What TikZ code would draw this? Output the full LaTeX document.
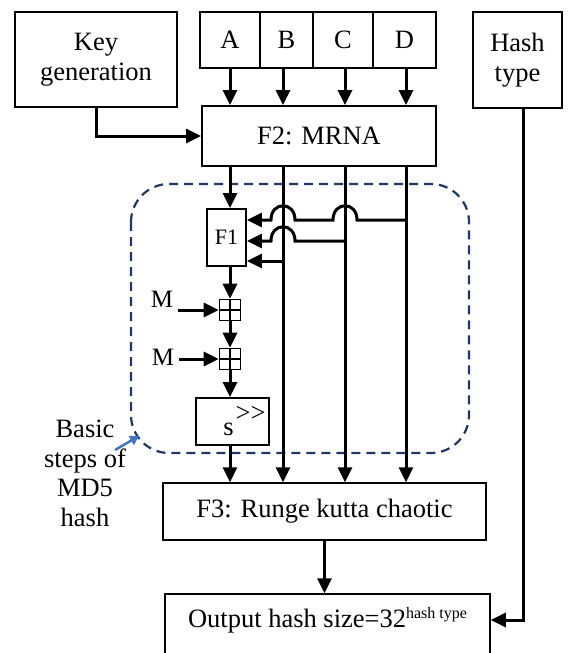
\documentclass[tikz,border=0pt]{standalone}
\usepackage{fontspec}
\setmainfont{Liberation Serif}
\usetikzlibrary{arrows.meta}
\definecolor{dashblue}{HTML}{203864}
\definecolor{ptrblue}{HTML}{4472C4}
\tikzset{
  blk/.style={draw,line width=1.8pt,inner sep=0pt,align=center,font=\fontsize{26.5}{29.5}\selectfont},
  txt/.style={inner sep=0pt,font=\fontsize{26.5}{29.5}\selectfont},
  flow/.style={line width=3pt,-{Triangle[length=15pt,width=14pt]}},
  addbox/.style={draw,line width=1.6pt,minimum size=21pt,inner sep=0pt,
    path picture={\draw[line width=1.4pt] (path picture bounding box.north) -- (path picture bounding box.south)
      (path picture bounding box.west) -- (path picture bounding box.east);}}
}
\begin{document}
\begin{tikzpicture}[x=1pt,y=-1pt]
\useasboundingbox (0,0) rectangle (573,653);
\clip (0,0) rectangle (573,653);
% columns of the four words
\coordinate (colA) at (230,0);
\coordinate (colB) at (283,0);
\coordinate (colC) at (345,0);
\coordinate (colD) at (406,0);
\coordinate (colH) at (523,0);
% region of the MD5 steps
\draw[dashblue,line width=2.2pt,dash pattern=on 9pt off 6pt,rounded corners=38pt] (131,184) rectangle (469,453);
% top row
\node[blk,minimum width=162pt,minimum height=95pt] (keygen) at (96,59.5) {Key\\generation};
\node[blk,minimum width=60pt,minimum height=56pt] (A) at (230,40) {A};
\node[blk,minimum width=53pt,minimum height=56pt] (B) at (286.5,40) {B};
\node[blk,minimum width=60pt,minimum height=56pt] (C) at (343,40) {C};
\node[blk,minimum width=63pt,minimum height=56pt] (D) at (404.5,40) {D};
\node[blk,minimum width=89pt,minimum height=96pt] (hash) at (517.5,60) {Hash\\type};
\node[blk,minimum width=234pt,minimum height=60pt] (F2) at (319,136) {F2: MRNA};
% inner steps
\node[blk,minimum width=39pt,minimum height=57pt,font=\fontsize{22}{24}\selectfont] (F1) at (226.5,237.5) {F1};
\node[addbox] (add1) at (230,310) {};
\node[addbox] (add2) at (230,359) {};
\node[txt,font=\fontsize{25}{28}\selectfont] (m1) at (162,299) {M};
\node[txt,font=\fontsize{25}{28}\selectfont] (m2) at (163,357) {M};
\node[draw,line width=1.8pt,minimum width=73pt,minimum height=47pt] (sbox) at (232.5,421.5) {};
\node[txt] (shift) at (244.5,421) {s\kern2pt\raisebox{14pt}{{>}{>}}};
% lower boxes
\node[blk,line width=1.4pt,minimum width=323pt,minimum height=57pt] (F3) at (324.5,511.5) {F3: Runge kutta chaotic};
\node[draw,line width=1.5pt,minimum width=325pt,minimum height=92pt] (output) at (327.5,640) {};
\node[txt] (outtxt) at (327.5,620) {Output hash size=32\raisebox{9pt}{\fontsize{16}{16}\selectfont hash type}};
% note
\node[txt,align=center,anchor=north] (note) at (85,420) {Basic\\steps of\\MD5\\hash};
\coordinate (ptr0) at (115,450);
\coordinate (ptr1) at (139,436);
\draw[ptrblue,line width=2.5pt,-{Triangle[length=9pt,width=10pt]}] (ptr0) -- (ptr1);
% connectors
\draw[flow] (A.south -| colA) -- (F2.north -| colA);
\draw[flow] (B.south -| colB) -- (F2.north -| colB);
\draw[flow] (C.south -| colC) -- (F2.north -| colC);
\draw[flow] (D.south -| colD) -- (F2.north -| colD);
\draw[flow] (keygen.south) |- (F2.west);
\draw[flow] (F2.south -| colA) -- (F1.north -| colA);
\draw[flow] (F2.south -| colB) -- (F3.north -| colB);
\draw[flow] (F2.south -| colC) -- (F3.north -| colC);
\draw[flow] (F2.south -| colD) -- (F3.north -| colD);
% feedback into F1, jumping over the columns
\draw[flow] (colD |- 0,220) -- (357,220) .. controls (357,201) and (333,201) .. (333,220)
  -- (295,220) .. controls (295,201) and (271,201) .. (271,220) -- (F1.east |- 0,220);
\draw[flow] (colC |- 0,241) -- (295,241) .. controls (295,222) and (271,222) .. (271,241) -- (F1.east |- 0,241);
\draw[flow] (colB |- 0,261) -- (F1.east |- 0,261);
\draw[flow] (F1.south -| add1) -- (add1.north);
\draw[flow] (add1.south) -- (add2.north);
\draw[flow] (add2.south) -- (sbox.north -| add2);
\draw[flow] ([xshift=5pt]m1.east |- add1) -- (add1.west);
\draw[flow] ([xshift=5pt]m2.east |- add2) -- (add2.west);
\draw[flow] (sbox.south -| colA) -- (F3.north -| colA);
\draw[flow] (F3.south) -- (F3.south |- output.north);
\draw[flow] (hash.south -| colH) |- (outtxt -| output.east);
\end{tikzpicture}
\end{document}
